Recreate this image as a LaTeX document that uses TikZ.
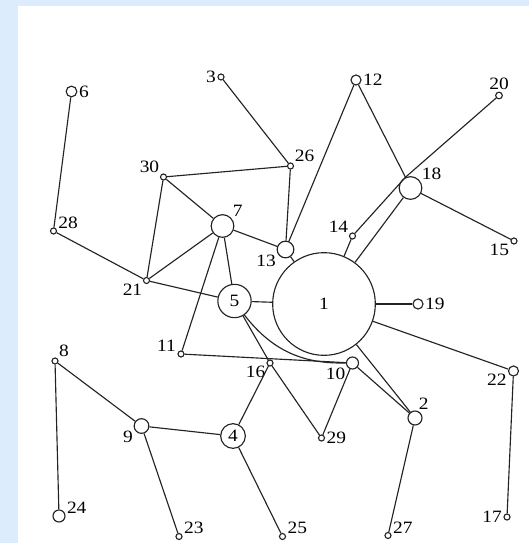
\documentclass[tikz,border=0pt]{standalone}
\usepackage{fontspec}
\setmainfont{Liberation Serif}[FakeStretch=1.12]
\usetikzlibrary{graphs}
\definecolor{PageBlue}{RGB}{221,236,252}
\definecolor{EdgeGray}{RGB}{35,35,35}
\tikzset{vtx/.style={circle,draw=EdgeGray,line width=0.85pt,fill=white,inner sep=0pt,minimum size=#1,font=\fontsize{13}{13}\selectfont}}
\tikzset{smallvtx/.style={vtx=4.5pt}}
\tikzset{every label/.style={inner sep=1pt,font=\fontsize{13}{13}\selectfont}}
\tikzset{myedges/.style={line width=0.85pt,EdgeGray}}

\begin{document}
\begin{tikzpicture}[x=0.75pt,y=-0.75pt]
    \useasboundingbox (0,0) rectangle (529,543);
    \fill[PageBlue] (0,0) rectangle (529,543);
    \fill[white] (18,6) rectangle (529,543);
    % big nodes
    \node[vtx=77pt] (1) at (324,304) {1};
    \node[vtx=25pt] (5) at (234.5,301) {5};
    \node[vtx=18.5pt] (4) at (233,436) {4};
    \node[vtx=17pt,label=43:7] (7) at (222.5,226) {};
    \node[vtx=17pt,label=35:18] (18) at (410.5,188) {};
    \node[vtx=12.5pt,label=206:13] (13) at (285.5,249.5) {};
    \node[vtx=11pt,label=207:9] (9) at (141.5,426) {};
    \node[vtx=10.5pt,label=72:2] (2) at (415,418) {};
    \node[vtx=8pt,label=right:6] (6) at (71.5,91.5) {};
    \node[vtx=9pt,label=212:10] (10) at (352.5,363) {};
    \node[vtx=9pt,label=12:24] (24) at (59,516) {};
    \node[vtx=7.5pt,label=right:12] (12) at (356,80) {};
    \node[vtx=7.5pt,label=right:19] (19) at (418,304) {};
    \node[vtx=7.5pt,label=198:22] (22) at (513.5,371) {};
    \node[vtx=5pt,label=above:20] (20) at (499,95.5) {};
    % small nodes
    \node[smallvtx,label=left:3] (3) at (221,77) {};
    \node[smallvtx,label=40:26] (26) at (290.5,166) {};
    \node[smallvtx,label=140:30] (30) at (163.5,177) {};
    \node[smallvtx,label=18:28] (28) at (53.5,231) {};
    \node[smallvtx,label=140:14] (14) at (352.5,236) {};
    \node[smallvtx,label=203:15] (15) at (514,241) {};
    \node[smallvtx,label=220:21] (21) at (146.5,280.5) {};
    \node[smallvtx,label=170:11] (11) at (181,354) {};
    \node[smallvtx,label=209:16] (16) at (270,363) {};
    \node[smallvtx,label=45:8] (8) at (55,361) {};
    \node[smallvtx,label=right:29] (29) at (321.5,438) {};
    \node[smallvtx,label=12:23] (23) at (179,536.5) {};
    \node[smallvtx,label=12:25] (25) at (282.5,536.5) {};
    \node[smallvtx,label=12:27] (27) at (388,535.5) {};
    \node[smallvtx,label=left:17] (17) at (507,517) {};
    % edges
    \graph[use existing nodes, edges={myedges}]{
        6 -- 28 -- 21 -- {30, 7, 5};
        3 -- 26 -- {30, 13};
        30 -- 7 -- {13, 5, 11};
        12 -- 13 -- 1;
        18 -- {15, 1};
        14 -- 1;
        5 -- {1, 16};
        1 -- {19, 22, 2};
        11 -- 10 -- {29, 2};
        16 -- {29, 4};
        8 -- {9, 24};
        9 -- {4, 23};
        4 -- 25;
        2 -- 27;
        22 -- 17;
        5 --[bend right=27] 10;
    };
    \draw[myedges] (12) -- (18.115) -- (20) (14) -- (18.115);
\end{tikzpicture}
\end{document}
